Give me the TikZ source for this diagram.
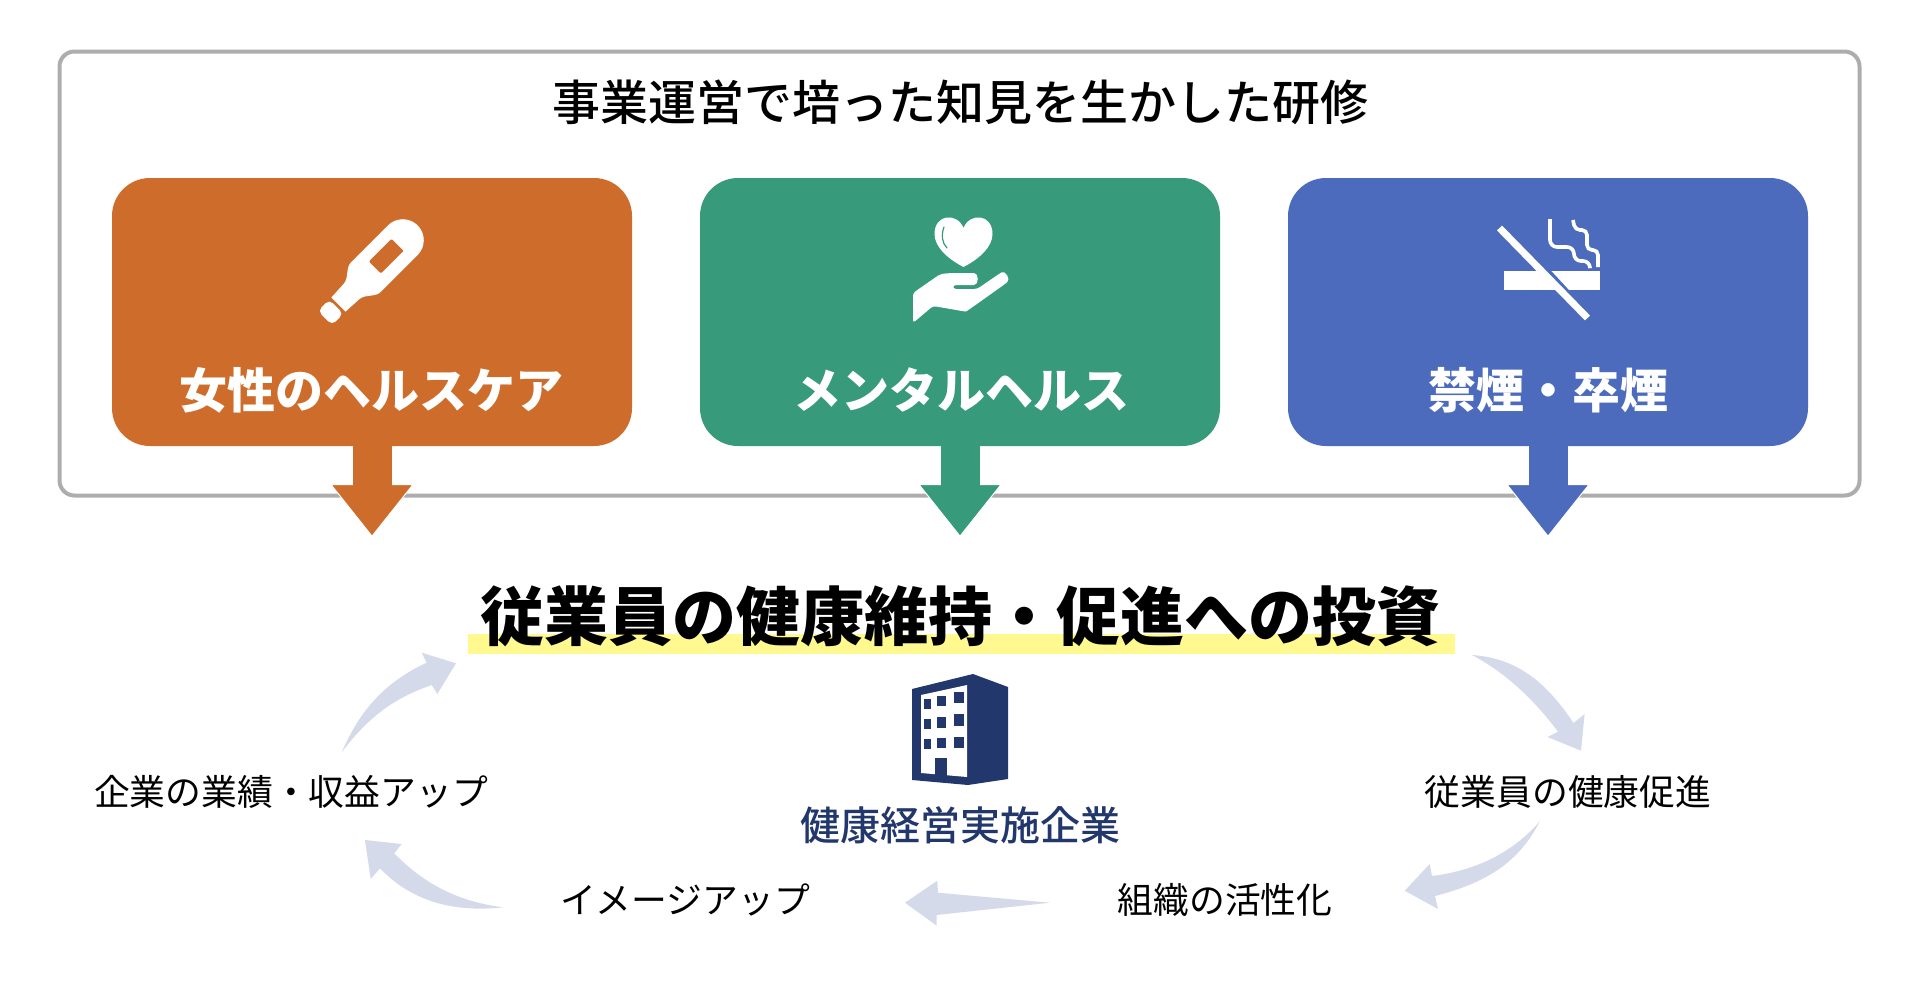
\documentclass[tikz,border=0pt]{standalone}
\usepackage{fontspec}
\setmainfont{Noto Sans CJK JP}
\newfontfamily\jpmed{Noto Sans CJK JP Medium}
\usetikzlibrary{arrows.meta}
\definecolor{careorange}{HTML}{CE6D2B}
\definecolor{mindgreen}{HTML}{379A7B}
\definecolor{smokeblue}{HTML}{4C6BBC}
\definecolor{framegray}{HTML}{ADADAD}
\definecolor{flowpale}{HTML}{D5DAEB}
\definecolor{markyellow}{HTML}{FFF98F}
\definecolor{firmnavy}{HTML}{22376B}
\begin{document}
\begin{tikzpicture}[x=1pt,y=-1pt]
  \tikzstyle{frame}=[draw=framegray, line width=4pt, rounded corners=15pt, minimum width=1800pt,
    minimum height=444pt, inner sep=0pt]
  \tikzstyle{theme}=[rounded corners=38pt, minimum width=520pt, minimum height=268pt, inner sep=0pt]
  \tikzstyle{themetext}=[text=white, inner sep=0pt, font=\fontsize{48}{48}\selectfont\bfseries]
  \tikzstyle{loopstep}=[text=black, inner sep=0pt, font=\fontsize{35.8}{36}\selectfont]
  \tikzstyle{drop}=[line width=39pt]
  \tikzstyle{flowshape}=[fill=flowpale]

  \useasboundingbox (0,0) rectangle (1920,1004);

  \node[frame] (frame) at (959.5,273.5) {};
  \node[inner sep=0pt, font=\fontsize{48}{48}\jpmed] (heading) at (960,102) {事業運営で培った知見を生かした研修};

  \node[theme, fill=careorange] (care) at (372,312) {};
  \node[theme, fill=mindgreen] (mind) at (960,312) {};
  \node[theme, fill=smokeblue] (smoke) at (1548,312) {};
  \node[themetext] (caretext) at (371,390) {女性のヘルスケア};
  \node[themetext] (mindtext) at (961,390) {メンタルヘルス};
  \node[themetext] (smoketext) at (1548,390) {禁煙・卒煙};

  \coordinate (caretip) at (372,537);
  \coordinate (mindtip) at (960,537);
  \coordinate (smoketip) at (1548,537);
  \coordinate (careneck) at (372,490);
  \coordinate (mindneck) at (960,490);
  \coordinate (smokeneck) at (1548,490);
  \draw[drop, draw=careorange, -{Triangle[length=53pt, width=84pt, fill=careorange, color=white, line width=1pt]}] (care.south) -- (caretip);
  \draw[drop, draw=mindgreen, -{Triangle[length=53pt, width=84pt, fill=mindgreen, color=white, line width=1pt]}] (mind.south) -- (mindtip);
  \draw[drop, draw=smokeblue, -{Triangle[length=53pt, width=84pt, fill=smokeblue, color=white, line width=1pt]}] (smoke.south) -- (smoketip);
  \draw[drop, draw=careorange] (care.south) -- (careneck);
  \draw[drop, draw=mindgreen] (mind.south) -- (mindneck);
  \draw[drop, draw=smokeblue] (smoke.south) -- (smokeneck);

  % thermometer
  \begin{scope}[shift={(325,318)}, rotate=45]
    \fill[white, rounded corners=5pt] (0,-10) -- (16,-10) -- (16,10) -- (0,10) -- cycle;
    \fill[white] (19,-10) -- (38,-11) .. controls (46,-12) and (50,-21) .. (58,-21) -- (110,-21)
      arc (-90:90:21) -- (58,21) .. controls (50,21) and (46,12) .. (38,11) -- (19,10) -- cycle;
    \fill[careorange, rounded corners=1pt] (71,-9) rectangle (103,8);
  \end{scope}

  % heart and hand
  \fill[white] (963.5,267) .. controls (948,259) and (934.5,247) .. (934.5,234)
    .. controls (934.5,214) and (957,212) .. (963.5,228)
    .. controls (970,212) and (992.5,214) .. (992.5,234)
    .. controls (992.5,247) and (979,259) .. (963.5,267) -- cycle;
  \draw[mindgreen, line width=1.2pt, line cap=round] (944,227) .. controls (941,235) and (942,243) .. (947,248);
  \fill[white, rounded corners=3pt] (913,323) -- (913,293) -- (936,277) .. controls (942,273) and (950,273) .. (971,273)
    .. controls (979,273) and (979,285) .. (971,285) -- (953,285) -- (953,289) -- (977,289) -- (999,274)
    .. controls (1005,270) and (1011,279) .. (1005,284) -- (967,311) -- (965,311.5) -- (933,306) -- cycle;

  % no smoking sign
  \fill[white] (1504,271) rectangle (1600,290);
  \draw[smokeblue, line width=6pt] (1524,246) -- (1574,300);
  \draw[white, line width=7pt] (1499.5,228) -- (1587.5,318);
  \draw[white, line width=3.6pt, rounded corners=7pt] (1550,219) -- (1550,247) -- (1574,247) -- (1574,261) -- (1590,261) -- (1590,267);
  \draw[white, line width=3.6pt, rounded corners=5pt] (1573,220) -- (1575,230) -- (1587,230) -- (1587,250) -- (1598,250) -- (1598,267);

  \fill[markyellow] (468,634) rectangle (1455,654);
  \node[inner sep=0pt, font=\fontsize{64}{64}\selectfont\bfseries] (goal) at (960,616) {従業員の健康維持・促進への投資};

  % building
  \fill[firmnavy] (912,689) -- (973,674) -- (1008,687) -- (1008,779) -- (968,785) -- (912,780) -- cycle;
  \fill[white] (921,695) -- (967,685) -- (967,777) -- (921,773) -- cycle;
  \fill[firmnavy] (935,758) rectangle (947,776);
  \foreach \wx/\wy/\ww/\wh in {923.5/699/7.5/10, 937/696/9/10, 953.5/692/10/11,
    923.5/719/7.5/10, 937/717/9/11, 953.5/714/10/12,
    923.5/739/7.5/10, 937/738/9/10, 953.5/737/10/11}
    \fill[firmnavy] (\wx,\wy) rectangle ++(\ww,\wh);
  \node[text=firmnavy, inner sep=0pt, font=\fontsize{40}{40}\jpmed] (firm) at (960,825) {健康経営実施企業};

  \node[loopstep] (health) at (1568,792) {従業員の健康促進};
  \node[loopstep] (vitality) at (1225,900) {組織の活性化};
  \node[loopstep] (image) at (685,900) {イメージアップ};
  \node[loopstep] (profit) at (291,792) {企業の業績・収益アップ};

  % pale loop arrows
  \fill[flowshape] (1472,655) .. controls (1515,658) and (1545,680) .. (1573.5,723) -- (1584.6,714) -- (1581,750.7)
    -- (1547.6,737) -- (1558,731.7) .. controls (1538,705) and (1510,675) .. (1472,655) -- cycle;
  \fill[flowshape] (1540,821) .. controls (1515,850) and (1480,870) .. (1432,876) -- (1429.7,864) -- (1404.7,890.7)
    -- (1438,909) -- (1435,896) .. controls (1490,882) and (1520,860) .. (1540,821) -- cycle;
  \fill[flowshape] (1050,902.7) -- (938,892.7) -- (937.3,880.7) -- (905,902.7) -- (936.7,925.7) -- (936.7,915) -- cycle;
  \fill[flowshape] (503.3,907.3) .. controls (460,902) and (425,885) .. (394.3,853.3) -- (401.7,844) -- (365,840)
    -- (370.7,879) -- (380,868.3) .. controls (415,905) and (460,912) .. (503.3,907.3) -- cycle;
  \fill[flowshape] (341.7,752.3) .. controls (360,710) and (385,682) .. (426.7,662.7) -- (421.7,652.7) -- (456,663.3)
    -- (437.3,694) -- (431.7,685) .. controls (395,698) and (370,715) .. (341.7,752.3) -- cycle;
\end{tikzpicture}
\end{document}
